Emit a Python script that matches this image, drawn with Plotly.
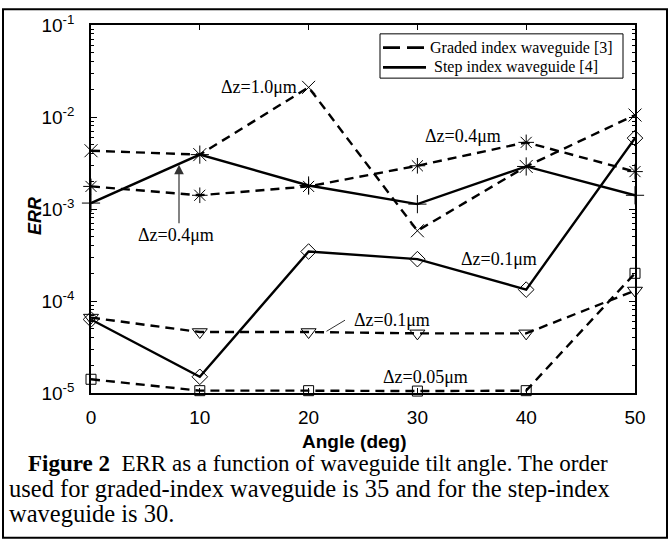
import plotly.graph_objects as go

# ---- data ----
angles = [0, 10, 20, 30, 40, 50]
graded_dz10 = [4.3e-3, 3.9e-3, 2.1e-2, 5.8e-4, 2.9e-3, 1.05e-2]
graded_dz04 = [1.76e-3, 1.41e-3, 1.76e-3, 2.95e-3, 5.3e-3, 2.55e-3]
graded_dz01 = [6.6e-5, 4.6e-5, 4.6e-5, 4.45e-5, 4.45e-5, 1.3e-4]
graded_dz005 = [1.41e-5, 1.06e-5, 1.06e-5, 1.05e-5, 1.06e-5, 2.0e-4]
step_dz04 = [1.16e-3, 3.9e-3, 1.8e-3, 1.13e-3, 2.9e-3, 1.41e-3]
step_dz01 = [6.3e-5, 1.5e-5, 3.45e-4, 2.85e-4, 1.33e-4, 5.9e-3]

x_ticks = [0, 10, 20, 30, 40, 50]
y_tickvals = [1e-5, 1e-4, 1e-3, 1e-2, 1e-1]
y_ticktext = ["10<sup>-5</sup>", "10<sup>-4</sup>", "10<sup>-3</sup>", "10<sup>-2</sup>", "10<sup>-1</sup>"]
y_minor = [m * d for d in [1e-5, 1e-4, 1e-3, 1e-2] for m in range(2, 10)]

legend_names = ["Graded index waveguide [3]", "Step index waveguide [4]"]
caption_lines = [
    "<b>Figure 2</b>\u00a0 ERR as a function of waveguide tilt angle. The order",
    "used for graded-index waveguide is 35 and for the step-index",
    "waveguide is 30.",
]

SERIF = "Liberation Serif, Times New Roman, serif"
SANS = "Liberation Sans, Arial, sans-serif"
DASH = "9px,6px"

fig = go.Figure()

def add(y, dash, symbol, size):
    fig.add_trace(go.Scatter(
        x=angles, y=y, mode="lines+markers", showlegend=False, cliponaxis=False,
        line=dict(color="black", width=2.4, dash=dash),
        marker=dict(symbol=symbol, size=size, color="black",
                    line=dict(color="black", width=1)),
    ))

add(graded_dz10, DASH, "x-thin-open", 13)
add(graded_dz04, DASH, "asterisk-open", 13)
add(graded_dz01, DASH, "triangle-down-open", 13)
add(graded_dz005, DASH, "square-open", 10)
add(step_dz04, "solid", "cross-thin-open", 13)
add(step_dz01, "solid", "diamond-open", 12)

W, H = 670, 544
L, R, T, B = 91, 35, 19, 151
pw, ph = W - L - R, H - T - B

def px(xp):
    return (xp - L) / pw

def py(yp):
    return (H - B - yp) / ph

ann = []
def text(t, xp, yp, size, family=SERIF, xanchor="center", angle=0):
    ann.append(dict(text=t, x=px(xp), y=py(yp), xref="paper", yref="paper",
                    xanchor=xanchor, yanchor="middle", showarrow=False, textangle=angle,
                    font=dict(family=family, size=size, color="black")))

# in-plot labels
text("\u0394z=1.0\u03bcm", 259, 82, 18)
text("\u0394z=0.4\u03bcm", 176, 232, 18)
text("\u0394z=0.4\u03bcm", 463, 132, 18)
text("\u0394z=0.1\u03bcm", 499, 257, 18)
text("\u0394z=0.1\u03bcm", 392, 319, 18)
text("\u0394z=0.05\u03bcm", 425, 377, 18)

# arrow pointing up
ann.append(dict(text="", x=px(179), y=py(161), xref="paper", yref="paper",
                showarrow=True, ax=0, ay=60, arrowhead=2, arrowsize=1.6,
                arrowwidth=1.2, arrowcolor="#333"))
# leader line
ann.append(dict(text="", x=px(345), y=py(319), xref="paper", yref="paper",
                showarrow=True, ax=-20, ay=12, arrowhead=0, arrowwidth=1,
                arrowcolor="#333"))

# axis titles
text("<b>Angle (deg)</b>", 354, 442, 19, family=SANS)
text("<b><i>ERR</i></b>", 35, 213, 18, family=SANS, angle=-90)

# legend (drawn by hand to match the compact box)
text(legend_names[0], 428, 42, 16, xanchor="left")
text(legend_names[1], 432, 62, 16, xanchor="left")

# caption
cap_x = [26, 7, 7]
cap_size = [23, 24.5, 24.5]
for i, line in enumerate(caption_lines):
    text(line, cap_x[i], 465 + 25 * i, cap_size[i], xanchor="left")

shapes = [
    dict(type="rect", xref="paper", yref="paper",
         x0=px(3), x1=px(667), y0=py(540), y1=py(3),
         line=dict(color="black", width=2)),
    dict(type="rect", xref="paper", yref="paper",
         x0=px(380), x1=px(623), y0=py(73), y1=py(28),
         fillcolor="white", line=dict(color="black", width=1), layer="above"),
    dict(type="line", xref="paper", yref="paper",
         x0=px(383), x1=px(424), y0=py(42), y1=py(42),
         line=dict(color="black", width=2.8, dash="17px,7px"), layer="above"),
    dict(type="line", xref="paper", yref="paper",
         x0=px(383), x1=px(426), y0=py(62), y1=py(62),
         line=dict(color="black", width=2.8), layer="above"),
]

fig.update_layout(
    width=W, height=H,
    margin=dict(l=L, r=R, t=T, b=B),
    paper_bgcolor="white", plot_bgcolor="white",
    showlegend=False,
    annotations=ann,
    shapes=shapes,
    xaxis=dict(range=[0, 50], tickvals=x_ticks, showgrid=False, zeroline=False,
               showline=True, linecolor="black", linewidth=1.5, mirror="ticks",
               ticks="inside", ticklen=5, tickcolor="black", ticklabelstandoff=6,
               tickfont=dict(family=SANS, size=19, color="black")),
    yaxis=dict(type="log", range=[-5, -1], tickvals=y_tickvals, ticktext=y_ticktext,
               showgrid=False, zeroline=False,
               showline=True, linecolor="black", linewidth=1.5, mirror="ticks",
               ticks="inside", ticklen=6, tickcolor="black",
               minor=dict(tickmode="array", tickvals=y_minor, ticks="inside",
                          ticklen=3, tickcolor="black", showgrid=False),
               ticklabelstandoff=11,
               tickfont=dict(family=SANS, size=19, color="black")),
)

fig.write_html("out.html", config={"displayModeBar": False},
               post_script="document.body.style.margin='0';")
